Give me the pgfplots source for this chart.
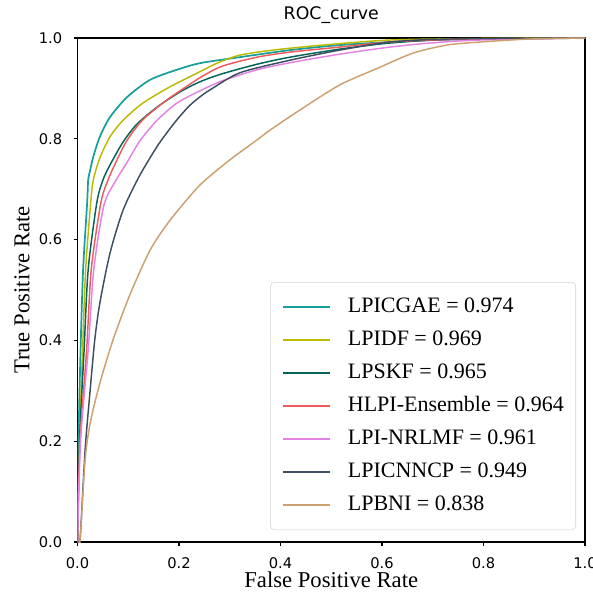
\documentclass[border=0pt]{standalone}
\usepackage{fontspec}
\setmainfont{Liberation Serif}
\newfontfamily\dejavu{DejaVu Sans}
\usepackage{pgfplots}
\pgfplotsset{compat=1.18}

\definecolor{cgae}{RGB}{23,160,155}
\definecolor{cidf}{RGB}{188,186,0}
\definecolor{cskf}{RGB}{0,100,88}
\definecolor{chlpi}{RGB}{240,90,90}
\definecolor{cnrl}{RGB}{228,130,228}
\definecolor{ccnn}{RGB}{62,78,98}
\definecolor{cbni}{RGB}{205,160,112}

\begin{document}
\begin{tikzpicture}
\begin{axis}[
    name=ax,
    scale only axis,
    width=380.6pt, height=378pt,
    xmin=0, xmax=1, ymin=0, ymax=1,
    xtick={0,0.2,...,1.0}, ytick={0,0.2,...,1.0},
    tickpos=left, tick align=outside,
    major tick length=3pt,
    axis line style={line width=0.8pt},
    every tick/.style={black, line width=0.8pt},
    /pgf/number format/assume math mode=true,
    /pgf/number format/.cd, fixed, fixed zerofill, precision=1, /pgfplots/.cd,
    ticklabel style={font=\dejavu\fontsize{11}{13}\selectfont},
    xticklabel style={yshift=-5pt},
    yticklabel style={xshift=-5pt},
    title={ROC\_curve},
    title style={font=\dejavu\fontsize{13}{15}\selectfont,
        at={(axis description cs:0.5,1.02)}, anchor=base},
    xlabel={False Positive Rate},
    ylabel={True Positive Rate},
    label style={font=\fontsize{17}{20}\selectfont},
    xlabel style={at={(axis description cs:0.5,-0.091)}, anchor=base,
        inner sep=0pt, text depth=0pt},
    ylabel style={at={(axis description cs:-0.095,0.5)}, anchor=base},
    legend cell align=left,
    legend image code/.code={\draw[#1] (0pt,0pt) -- (35pt,0pt);},
    legend style={
        at={(axis description cs:0.9823,0.0238)}, anchor=south east,
        draw=black!18, rounded corners=3pt,
        font=\fontsize{16.5}{20}\selectfont,
        inner xsep=9pt, inner ysep=11.3pt,
        row sep=10.25pt, column sep=12.75pt,
        nodes={inner sep=0pt, text height=11.5pt, text depth=3pt},
    },
    every axis plot/.append style={line width=1.1pt, smooth, tension=0.45},
]
% LPICGAE
\addplot[cgae, line width=1.3pt] coordinates {
 (0,0) (0.002,0.2) (0.006,0.381) (0.011,0.54) (0.019,0.673) (0.021,0.718)
 (0.025,0.738) (0.031,0.764) (0.044,0.804) (0.064,0.843) (0.098,0.883)
 (0.143,0.917) (0.196,0.937) (0.241,0.950) (0.320,0.962) (0.419,0.976)
 (0.517,0.986) (0.616,0.992) (0.734,0.997) (1,1)
};
\addlegendentry{LPICGAE = 0.974}
% LPIDF
\addplot[cidf] coordinates {
 (0,0) (0.004,0.2) (0.010,0.381) (0.016,0.54) (0.026,0.673) (0.031,0.718)
 (0.044,0.762) (0.064,0.804) (0.090,0.837) (0.129,0.871) (0.182,0.903)
 (0.241,0.933) (0.275,0.950) (0.320,0.966) (0.385,0.976) (0.484,0.986)
 (0.616,0.996) (0.793,0.999) (1,1)
};
\addlegendentry{LPIDF = 0.969}
% LPSKF
\addplot[cskf] coordinates {
 (0,0) (0.004,0.2) (0.013,0.381) (0.021,0.54) (0.038,0.673) (0.050,0.718)
 (0.064,0.748) (0.090,0.794) (0.117,0.829) (0.157,0.863) (0.202,0.893)
 (0.241,0.913) (0.285,0.929) (0.354,0.948) (0.419,0.962) (0.517,0.978)
 (0.616,0.990) (0.734,0.997) (1,1)
};
\addlegendentry{LPSKF = 0.965}
% HLPI-Ensemble
\addplot[chlpi] coordinates {
 (0,0) (0.005,0.2) (0.018,0.381) (0.027,0.54) (0.046,0.673) (0.060,0.718)
 (0.074,0.750) (0.097,0.796) (0.128,0.837) (0.176,0.877) (0.241,0.921)
 (0.285,0.944) (0.354,0.962) (0.419,0.972) (0.517,0.982) (0.616,0.992)
 (0.734,0.997) (1,1)
};
\addlegendentry{HLPI-Ensemble = 0.964}
% LPI-NRLMF
\addplot[cnrl] coordinates {
 (0,0) (0.006,0.2) (0.021,0.381) (0.032,0.54) (0.052,0.668) (0.076,0.718)
 (0.097,0.752) (0.123,0.796) (0.157,0.837) (0.196,0.871) (0.241,0.895)
 (0.285,0.915) (0.354,0.937) (0.419,0.951) (0.517,0.968) (0.616,0.982)
 (0.695,0.990) (0.793,0.996) (1,1)
};
\addlegendentry{LPI-NRLMF = 0.961}
% LPICNNCP
\addplot[ccnn] coordinates {
 (0,0) (0.005,0.004) (0.015,0.183) (0.025,0.302) (0.034,0.401) (0.044,0.474)
 (0.064,0.573) (0.090,0.659) (0.123,0.728) (0.157,0.785) (0.182,0.820)
 (0.202,0.845) (0.221,0.866) (0.241,0.883) (0.261,0.897) (0.320,0.931)
 (0.419,0.956) (0.517,0.976) (0.616,0.992) (0.734,0.998) (1,1)
};
\addlegendentry{LPICNNCP = 0.949}
% LPBNI
\addplot[cbni] coordinates {
 (0,0) (0.005,0.004) (0.015,0.163) (0.025,0.236) (0.044,0.315) (0.070,0.401)
 (0.103,0.490) (0.143,0.579) (0.182,0.638) (0.241,0.708) (0.300,0.758)
 (0.354,0.798) (0.379,0.817) (0.438,0.857) (0.517,0.907) (0.596,0.942)
 (0.661,0.970) (0.728,0.986) (0.793,0.992) (0.892,0.998) (1,1)
};
\addlegendentry{LPBNI = 0.838}
\end{axis}
\pgfresetboundingbox
\path ([xshift=-58.125pt,yshift=-37.5pt]ax.south west) rectangle ([xshift=6pt,yshift=28.5pt]ax.north east);
\end{tikzpicture}
\end{document}
